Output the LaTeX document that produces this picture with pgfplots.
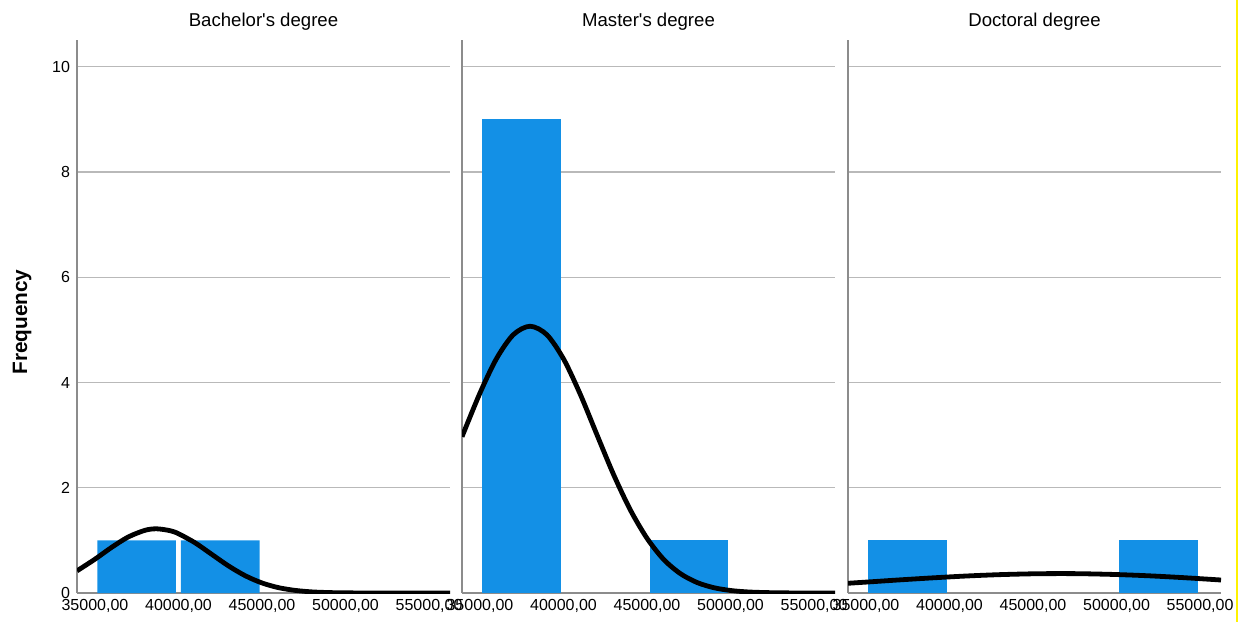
\documentclass[border=0pt]{standalone}
\usepackage{pgfplots}
\pgfplotsset{compat=1.18}
\usepackage{fontspec}
\setmainfont{Liberation Sans}
\definecolor{barblue}{RGB}{19,144,230}
\definecolor{axgray}{RGB}{140,140,140}
\definecolor{gridgray}{RGB}{185,185,185}
\pgfplotsset{
  panel/.style={
    scale only axis, width=186.5pt, height=276.5pt,
    xmin=33925, xmax=56254, ymin=0, ymax=10.51,
    axis x line=bottom, axis y line=left,
    axis line style={-, axgray, line width=0.6pt},
    ymajorgrids, grid style={gridgray, line width=0.6pt},
    major tick length=0pt,
    ytick={0,2,4,6,8,10},
    xtick={35000,40000,45000,50000,55000},
    xticklabels={{35000,00},{40000,00},{45000,00},{50000,00},{55000,00}},
    tick label style={font=\fontsize{8}{9}\selectfont, black},
    /pgf/number format/assume math mode=true,
    xticklabel style={yshift=0.5pt},
    every axis title shift=0pt,
    title style={at={(0.5,1)}, anchor=south, yshift=1.5pt, font=\fontsize{9.3}{11}\selectfont},
    clip=true,
  },
  bars/.style={ybar interval, bar interval width=0.94, bar interval shift=0.5, fill=barblue, draw=none},
  curve/.style={smooth, black, line width=2.4pt},
}
\begin{document}
\begin{tikzpicture}
\useasboundingbox (0,0) rectangle (620pt,311pt);
\fill[yellow] (618pt,0) rectangle (619pt,311pt);
% Bachelor's degree
\begin{axis}[panel, at={(38.5pt,14.5pt)}, anchor=south west,
  title={Bachelor\textquotesingle s degree},
  ylabel={Frequency},
  ylabel style={at={(axis description cs:-0.147,0.49)}, anchor=center, font=\fontsize{10.4}{12}\bfseries\selectfont}]
\addplot[bars] coordinates {(35000,1) (40000,1) (45000,1)};
\addplot[curve] coordinates {
(33925,0.421) (35000,0.643) (36000,0.868) (37000,1.066) (38000,1.192) (38700,1.220)
(39500,1.184) (40000,1.127) (41000,0.953) (42000,0.733) (43000,0.514) (44000,0.328)
(45000,0.191) (46000,0.101) (47000,0.049) (48000,0.021) (49000,0.0085) (50000,0.003)
(52000,0.0002) (54000,0) (56254,0)};
\end{axis}
% Master's degree
\begin{axis}[panel, at={(231pt,14.5pt)}, anchor=south west,
  title={Master\textquotesingle s degree}, yticklabels={}]
\addplot[bars] coordinates {(35000,9) (40000,9)};
\addplot[bars] coordinates {(45000,1) (50000,1)};
\addplot[curve] coordinates {
(33925,2.97) (35000,3.80) (36000,4.46) (37000,4.91) (38000,5.07) (39000,4.91)
(40000,4.45) (41000,3.78) (42000,3.01) (43000,2.25) (44000,1.58) (45000,1.04)
(46000,0.637) (47000,0.368) (48000,0.199) (49000,0.101) (50000,0.048) (51000,0.021)
(52000,0.009) (53000,0.0035) (54000,0.0013) (56254,0)};
\end{axis}
% Doctoral degree
\begin{axis}[panel, at={(424pt,14.5pt)}, anchor=south west,
  title={Doctoral degree}, yticklabels={}]
\addplot[bars] coordinates {(35000,1) (40000,1)};
\addplot[bars] coordinates {(50000,1) (55000,1)};
\addplot[curve] coordinates {
(33925,0.185) (35000,0.207) (37000,0.249) (39000,0.288) (41000,0.323) (43000,0.349)
(45000,0.365) (46600,0.369) (48000,0.366) (50000,0.351) (52000,0.326) (54000,0.292)
(56254,0.247)};
\end{axis}
\end{tikzpicture}
\end{document}
